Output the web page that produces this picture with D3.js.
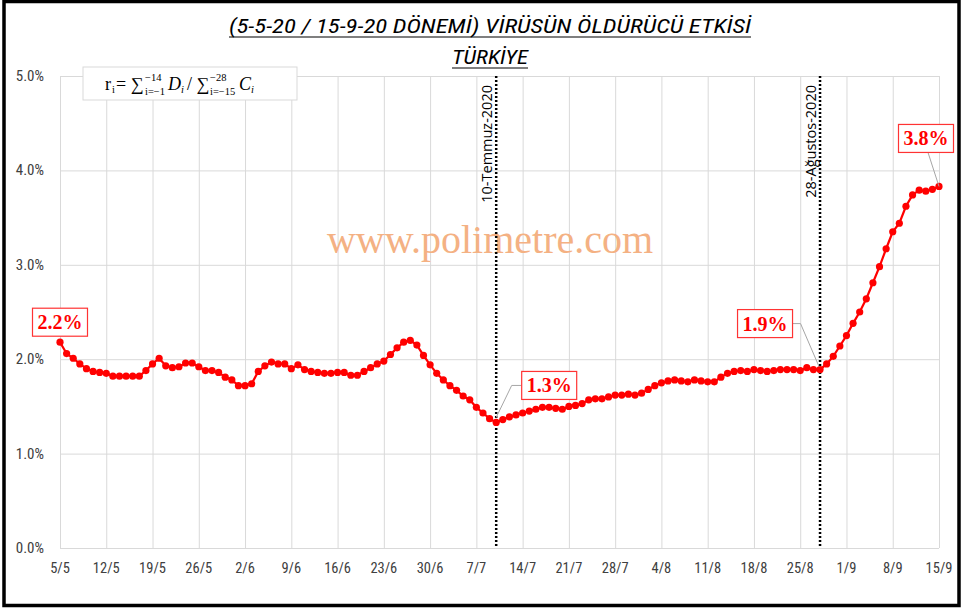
<!DOCTYPE html>
<html>
<head>
<meta charset="utf-8">
<script src="https://cdn.jsdelivr.net/npm/d3@7"></script>
<style>
  html, body { margin: 0; padding: 0; background: #fff; }
  svg { display: block; }
</style>
</head>
<body>
<svg id="chart" width="962" height="612"></svg>
<script>
// daily ratio (%), 5 May 2020 .. 15 Sep 2020
const values = [
  2.18, 2.06, 2.01, 1.95, 1.90, 1.87, 1.86, 1.85, 1.82, 1.82,
  1.82, 1.82, 1.82, 1.88, 1.95, 2.01, 1.93, 1.91, 1.92, 1.96,
  1.96, 1.92, 1.88, 1.88, 1.86, 1.81, 1.78, 1.72, 1.72, 1.74,
  1.87, 1.93, 1.97, 1.95, 1.95, 1.90, 1.94, 1.89, 1.87, 1.86,
  1.85, 1.85, 1.86, 1.86, 1.83, 1.83, 1.87, 1.91, 1.95, 1.98,
  2.05, 2.12, 2.18, 2.20, 2.15, 2.04, 1.94, 1.85, 1.78, 1.72,
  1.67, 1.61, 1.57, 1.49, 1.43, 1.37, 1.33, 1.36, 1.39, 1.41,
  1.43, 1.45, 1.47, 1.49, 1.49, 1.48, 1.47, 1.50, 1.51, 1.53,
  1.57, 1.58, 1.58, 1.60, 1.62, 1.62, 1.63, 1.62, 1.64, 1.68,
  1.72, 1.75, 1.77, 1.78, 1.77, 1.76, 1.78, 1.77, 1.76, 1.76,
  1.81, 1.85, 1.87, 1.88, 1.87, 1.89, 1.88, 1.87, 1.88, 1.89,
  1.89, 1.89, 1.88, 1.91, 1.89, 1.89, 1.95, 2.03, 2.14, 2.25,
  2.38, 2.50, 2.64, 2.81, 2.98, 3.17, 3.35, 3.44, 3.62, 3.74,
  3.79, 3.78, 3.80, 3.83
];
const startDate = new Date(Date.UTC(2020, 4, 5));
const tickLabels = ["5/5", "12/5", "19/5", "26/5", "2/6", "9/6", "16/6", "23/6", "30/6", "7/7",
  "14/7", "21/7", "28/7", "4/8", "11/8", "18/8", "25/8", "1/9", "8/9", "15/9"];
const yTicks = [0, 1, 2, 3, 4, 5];
const markerDates = ["2020-07-10", "2020-08-28"];
const markerLabels = ["10-Temmuz-2020", "28-Ağustos-2020"];
const calloutDates = ["2020-05-05", "2020-07-10", "2020-08-28", "2020-09-15"];
const calloutTexts = ["2.2%", "1.3%", "1.9%", "3.8%"];

const titleLine1 = "(5-5-20 / 15-9-20 DÖNEMİ) VİRÜSÜN ÖLDÜRÜCÜ ETKİSİ";
const titleLine2 = "TÜRKİYE";

const dates = values.map((v, i) => d3.utcDay.offset(startDate, i));
const data = values.map((v, i) => ({ date: dates[i], value: v }));
const byDate = new Map(data.map(d => [d3.utcFormat("%Y-%m-%d")(d.date), d]));

const svg = d3.select("#chart");
const margin = { top: 76, right: 23, bottom: 64, left: 60 };
const W = 962, H = 612;
const innerRight = W - margin.right;
const innerBottom = H - margin.bottom;
const labelFont = "'Liberation Sans Narrow', 'Arial Narrow', 'Roboto Condensed', 'Open Sans', sans-serif";
const serif = "'Liberation Serif', 'DejaVu Serif', serif";

// outer frame
svg.append("rect")
  .attr("x", 4).attr("y", 1.5).attr("width", 955).attr("height", 604)
  .attr("fill", "#fff").attr("stroke", "#000").attr("stroke-width", 3.5);

const x = d3.scaleUtc()
  .domain([dates[0], dates[dates.length - 1]])
  .range([margin.left, innerRight]);
const y = d3.scaleLinear()
  .domain([0, 5])
  .range([innerBottom, margin.top]);

const tickDates = tickLabels.map((t, i) => d3.utcDay.offset(startDate, i * 7));

// grid
svg.append("g")
  .attr("transform", "translate(0," + innerBottom + ")")
  .call(d3.axisBottom(x).tickValues(tickDates).tickSize(-(innerBottom - margin.top)).tickFormat(""))
  .call(g => g.select(".domain").remove())
  .call(g => g.selectAll("line").attr("stroke", "#d9d9d9"));

svg.append("g")
  .attr("transform", "translate(" + margin.left + ",0)")
  .call(d3.axisLeft(y).tickValues(yTicks).tickSize(-(innerRight - margin.left)).tickFormat(""))
  .call(g => g.select(".domain").remove())
  .call(g => g.selectAll("line").attr("stroke", "#d9d9d9"));

// y labels
svg.append("g")
  .selectAll("text")
  .data(yTicks)
  .join("text")
  .attr("x", 44)
  .attr("y", d => y(d) + 5)
  .attr("text-anchor", "end")
  .attr("font-family", labelFont)
  .attr("font-size", 15)
  .attr("fill", "#404040")
  .text(d => d.toFixed(1) + "%");

// x labels
svg.append("g")
  .selectAll("text")
  .data(tickDates)
  .join("text")
  .attr("x", d => x(d))
  .attr("y", 573)
  .attr("text-anchor", "middle")
  .attr("font-family", labelFont)
  .attr("font-size", 14.5)
  .attr("fill", "#404040")
  .text((d, i) => tickLabels[i]);

// titles
function underlinedTitle(txt, cy, w) {
  svg.append("text")
    .attr("x", 490).attr("y", cy)
    .attr("text-anchor", "middle")
    .attr("font-family", labelFont)
    .attr("font-style", "italic")
    .attr("font-size", 21)
    .attr("textLength", w)
    .attr("lengthAdjust", "spacingAndGlyphs")
    .attr("fill", "#000")
    .text(txt);
  svg.append("line")
    .attr("x1", 490 - w / 2).attr("x2", 490 + w / 2)
    .attr("y1", cy + 4).attr("y2", cy + 4)
    .attr("stroke", "#000").attr("stroke-width", 1.2);
}
underlinedTitle(titleLine1, 33, 522);
underlinedTitle(titleLine2, 64, 76);

// watermark
svg.append("text")
  .attr("x", 490).attr("y", 253)
  .attr("text-anchor", "middle")
  .attr("font-family", serif)
  .attr("font-size", 40)
  .attr("fill", "#f4b183")
  .text("www.polimetre.com");

// formula box: r_i = sum D_i / sum C_i, limits drawn as separate small texts
const fb = svg.append("g").attr("font-family", serif).attr("fill", "#000");
fb.append("rect")
  .attr("x", 83).attr("y", 67).attr("width", 214).attr("height", 33)
  .attr("fill", "#fff").attr("stroke", "#d9d9d9");
const base = 90, sub = 10.5;
function piece(px, txt, opts = {}) {
  return fb.append("text")
    .attr("x", px).attr("y", opts.y || base)
    .attr("font-size", opts.size || 18)
    .attr("font-style", opts.italic ? "italic" : "normal")
    .text(txt);
}
piece(105, "r");
piece(112, "i", { size: sub, y: base + 3 });
piece(116, "= ∑");
piece(145, "−14", { size: sub, y: base - 9 });
piece(145, "i=−1", { size: sub, y: base + 5, italic: false });
piece(168, "D", { italic: true });
piece(181, "i", { size: sub, y: base + 3, italic: true });
piece(187, "/ ∑");
piece(210, "−28", { size: sub, y: base - 9 });
piece(210, "i=−15", { size: sub, y: base + 5 });
piece(239, "C", { italic: true });
piece(251, "i", { size: sub, y: base + 3, italic: true });

// marker lines
markerDates.forEach((md, i) => {
  const d = byDate.get(md);
  const mx = x(d.date);
  svg.append("line")
    .attr("x1", mx).attr("x2", mx)
    .attr("y1", margin.top).attr("y2", innerBottom)
    .attr("stroke", "#000").attr("stroke-width", 2.5)
    .attr("stroke-dasharray", "2,2");
  svg.append("text")
    .attr("transform", "translate(" + (mx - 4) + "," + 85 + ") rotate(-90)")
    .attr("text-anchor", "end")
    .attr("font-family", "'Open Sans', 'Noto Sans', sans-serif")
    .attr("font-size", 14.5)
    .attr("fill", "#000")
    .text(markerLabels[i]);
});

// line + points
svg.append("path")
  .datum(data)
  .attr("fill", "none")
  .attr("stroke", "#ff0000")
  .attr("stroke-width", 2.2)
  .attr("d", d3.line().x(d => x(d.date)).y(d => y(d.value)));

svg.append("g")
  .attr("fill", "#ff0000")
  .selectAll("circle")
  .data(data)
  .join("circle")
  .attr("cx", d => x(d.date))
  .attr("cy", d => y(d.value))
  .attr("r", 3.6);

// callouts
const boxOffsets = [[0, -20], [53, -37], [-55, -46], [-13, -48]];
calloutDates.forEach((cd, i) => {
  const d = byDate.get(cd);
  const px = x(d.date), py = y(d.value);
  const bx = px + boxOffsets[i][0], by = py + boxOffsets[i][1];
  const bw = 55, bh = 28;
  let pts = null;
  if (i === 1) pts = [[px, py - 5], [bx - bw / 2 - 10, by], [bx - bw / 2, by]];
  if (i === 2) pts = [[px - 1, py - 3], [bx + bw / 2 + 8, by], [bx + bw / 2, by]];
  if (i === 3) pts = [[px, py], [bx + 2, by + bh / 2]];
  if (pts) {
    svg.append("polyline")
      .attr("points", pts.map(p => p.join(",")).join(" "))
      .attr("fill", "none")
      .attr("stroke", "#a6a6a6")
      .attr("stroke-width", 1);
  }
  svg.append("rect")
    .attr("x", bx - bw / 2).attr("y", by - bh / 2)
    .attr("width", bw).attr("height", bh)
    .attr("fill", "#fff").attr("stroke", "#ff3333").attr("stroke-width", 1.2);
  svg.append("text")
    .attr("x", bx).attr("y", by + 7)
    .attr("text-anchor", "middle")
    .attr("font-family", serif)
    .attr("font-weight", "bold")
    .attr("font-size", 20)
    .attr("fill", "#ff0000")
    .text(calloutTexts[i]);
});
</script>
</body>
</html>
